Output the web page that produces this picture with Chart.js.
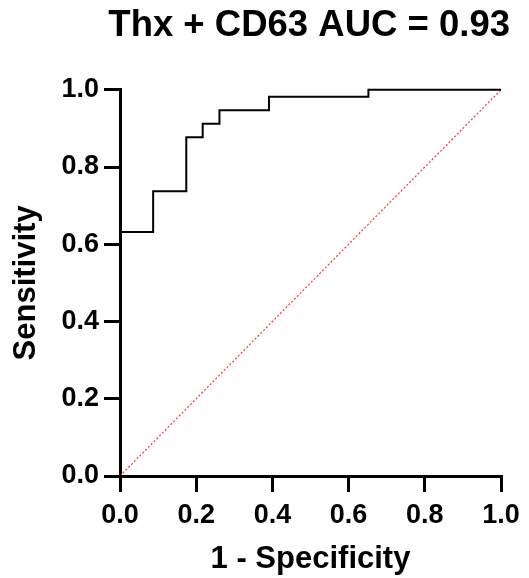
<!DOCTYPE html>
<html>
<head>
    <title>ROC curve</title>
    <script src="https://cdn.jsdelivr.net/npm/chart.js"></script>
    <style>
        body { margin: 0; background: #fff; }
        .chart-container { width: 529px; height: 578px; }
    </style>
</head>
<body>
    <div class="chart-container">
        <canvas id="roc"></canvas>
    </div>
    <script>
        // ROC points: 1 - specificity (x) and sensitivity (y)
        const fpr = [0, 0, 0.087, 0.174, 0.217, 0.261, 0.391, 0.652, 1];
        const tpr = [0, 0.632, 0.737, 0.877, 0.912, 0.947, 0.982, 1, 1];
        // reference diagonal
        const diagX = [0, 1];
        const diagY = [0, 1];
        const tickValues = [0, 0.2, 0.4, 0.6, 0.8, 1.0];

        const fontFamily = "'Liberation Sans', Arial, sans-serif";

        const axis = (titleText) => ({
            type: 'linear',
            min: 0,
            max: 1,
            border: { display: true, color: '#000', width: 3 },
            grid: { drawOnChartArea: false, color: '#000', lineWidth: 3, tickLength: 16 },
            ticks: {
                stepSize: 0.2,
                color: '#000',
                font: { family: fontFamily, size: 27, weight: 'bold' },
                callback: v => v.toFixed(1)
            },
            afterBuildTicks: s => { s.ticks = tickValues.map(v => ({ value: v })); },
            title: {
                display: true,
                text: titleText,
                color: '#000',
                font: { family: fontFamily, size: 31, weight: 'bold', lineHeight: 1.2 }
            }
        });

        const xAxis = axis('1 - Specificity');
        xAxis.ticks.padding = 7;
        xAxis.title.padding = { top: 0, bottom: 0 };
        xAxis.afterFit = s => { s.height = 102; s.paddingRight = 28; };

        const yAxis = axis('Sensitivity');
        yAxis.ticks.padding = 5;
        yAxis.title.padding = { top: 8, bottom: 0 };
        yAxis.afterFit = s => { s.width = 120; };

        new Chart(document.getElementById('roc'), {
            type: 'scatter',
            data: {
                datasets: [{
                    label: 'Thx + CD63',
                    data: fpr.map((x, i) => ({ x: x, y: tpr[i] })),
                    showLine: true,
                    stepped: 'before',
                    borderColor: '#000',
                    borderWidth: 2,
                    pointRadius: 0,
                    fill: false,
                    clip: false
                }, {
                    label: 'Reference',
                    data: diagX.map((x, i) => ({ x: x, y: diagY[i] })),
                    showLine: true,
                    borderColor: '#ff4040',
                    borderWidth: 1.3,
                    borderDash: [2, 2],
                    pointRadius: 0,
                    fill: false
                }]
            },
            options: {
                responsive: true,
                maintainAspectRatio: false,
                animation: false,
                layout: { padding: { left: 0, right: 19, top: 0, bottom: 0 } },
                plugins: {
                    legend: { display: false },
                    tooltip: { enabled: false },
                    title: {
                        display: true,
                        text: 'Thx + CD63 AUC = 0.93',
                        align: 'end',
                        color: '#000',
                        font: { family: fontFamily, size: 36.5, weight: 'bold', lineHeight: 1.2 },
                        padding: { top: 4, bottom: 42 }
                    }
                },
                scales: { x: xAxis, y: yAxis }
            }
        });
    </script>
</body>
</html>
